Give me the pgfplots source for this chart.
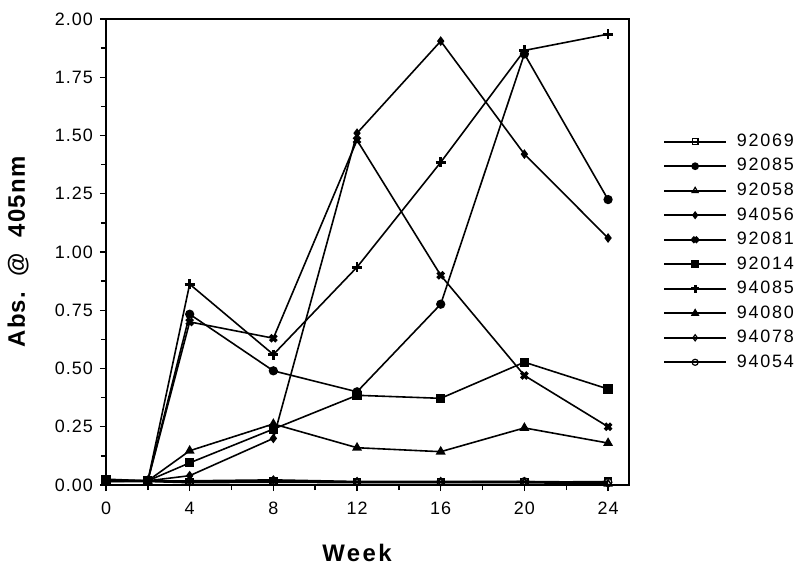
\documentclass[border=0pt]{standalone}
\usepackage{fontspec}
\setmainfont{Liberation Sans}
\usepackage{pgfplots}
\pgfplotsset{compat=1.18}
\begin{document}
\begin{tikzpicture}
\begin{axis}[
  at={(0,0)}, anchor=south west,
  scale only axis, width=261.5bp, height=233bp,
  xmin=0, xmax=25, ymin=0, ymax=2,
  xtick={0,4,8,12,16,20,24}, minor xtick={2,6,10,14,18,22},
  ytick={0,0.25,0.5,0.75,1,1.25,1.5,1.75,2},
  minor ytick={0.125,0.375,0.625,0.875,1.125,1.375,1.625,1.875},
  yticklabel style={/pgf/number format/.cd, fixed, fixed zerofill, precision=2},
  /pgf/number format/assume math mode=true,
  tick pos=left, tick align=outside,
  major tick length=3bp, minor tick length=2.5bp,
  every tick/.style={black, line width=0.7bp},
  axis line style={line width=0.8bp},
  tick label style={font=\fontsize{9}{10}\selectfont\addfontfeatures{LetterSpace=6}},
  xticklabel style={yshift=-2bp},
  xlabel={Week},
  xlabel style={at={(axis description cs:0.48,-0.146)}, anchor=center,
    font=\fontsize{12}{14}\selectfont\bfseries\addfontfeatures{LetterSpace=10}},
  ylabel={Abs.\ \ @\ \ 405nm},
  ylabel style={at={(axis description cs:-0.168,0.5)}, anchor=center, rotate=0,
    font=\fontsize{12}{14}\selectfont\bfseries\addfontfeatures{LetterSpace=5}},
  legend image code/.code={%
    \draw[mark repeat=2,mark phase=2,every mark/.append style={scale=0.8}] plot coordinates {(0bp,0bp) (15.5bp,0bp) (31bp,0bp)};
    \path (36bp,0bp);},
  legend style={at={(axis description cs:1.0535,0.5)}, anchor=west, draw=none, fill=none,
    font=\fontsize{9}{10}\selectfont\addfontfeatures{LetterSpace=10},
    nodes={inner sep=0pt}, row sep=4.5bp},
  legend cell align=left,
  ser/.style={black, solid, line width=0.8bp},
]
% 92069 open square
\addplot[ser, mark=square, mark size=1.8bp, mark options={solid, fill=white, line width=0.6bp}] coordinates {
 (0,0.020) (2,0.018) (4,0.012) (8,0.015) (12,0.012) (16,0.012) (20,0.012) (24,0.015)};
% 92085 filled circle
\addplot[ser, mark=*, mark size=1.9bp, mark options={solid, fill=black}] coordinates {
 (0,0.020) (2,0.018) (4,0.733) (8,0.490) (12,0.400) (16,0.776) (20,1.850) (24,1.225)};
% 92058 open triangle
\addplot[ser, mark=triangle, mark size=2.1bp, mark options={solid, fill=white, line width=0.6bp}] coordinates {
 (0,0.015) (2,0.015) (4,0.010) (8,0.012) (12,0.010) (16,0.010) (20,0.010) (24,0.005)};
% 94056 filled diamond
\addplot[ser, mark=diamond*, mark size=1.8bp, mark options={solid, fill=black}] coordinates {
 (0,0.018) (2,0.018) (4,0.040) (8,0.200) (12,1.510) (16,1.905) (20,1.420) (24,1.060)};
% 92081 x mark
\addplot[ser, mark=x, mark size=2.2bp, mark options={solid, line width=1.8bp}] coordinates {
 (0,0.020) (2,0.018) (4,0.700) (8,0.630) (12,1.480) (16,0.900) (20,0.470) (24,0.250)};
% 92014 filled square
\addplot[ser, mark=square*, mark size=1.9bp, mark options={solid, fill=black}] coordinates {
 (0,0.025) (2,0.018) (4,0.095) (8,0.240) (12,0.385) (16,0.372) (20,0.527) (24,0.412)};
% 94085 plus
\addplot[ser, mark=+, mark size=2.5bp, mark options={solid, line width=1.4bp}] coordinates {
 (0,0.020) (2,0.018) (4,0.862) (8,0.560) (12,0.935) (16,1.385) (20,1.865) (24,1.935)};
% 94080 filled triangle
\addplot[ser, mark=triangle*, mark size=2.1bp, mark options={solid, fill=black}] coordinates {
 (0,0.015) (2,0.018) (4,0.147) (8,0.262) (12,0.160) (16,0.143) (20,0.245) (24,0.180)};
% 94078 open diamond
\addplot[ser, mark=diamond, mark size=1.9bp, mark options={solid, fill=white, line width=0.6bp}] coordinates {
 (0,0.018) (2,0.018) (4,0.018) (8,0.022) (12,0.015) (16,0.015) (20,0.015) (24,0.005)};
% 94054 open circle
\addplot[ser, mark=o, mark size=1.9bp, mark options={solid, fill=white, line width=0.6bp}] coordinates {
 (0,0.018) (2,0.018) (4,0.013) (8,0.018) (12,0.013) (16,0.013) (20,0.015) (24,0.012)};
\legend{92069,92085,92058,94056,92081,92014,94085,94080,94078,94054}
\end{axis}
\pgfresetboundingbox
\useasboundingbox (-53bp,-42bp) rectangle (347bp,242.5bp);
\end{tikzpicture}
\end{document}
